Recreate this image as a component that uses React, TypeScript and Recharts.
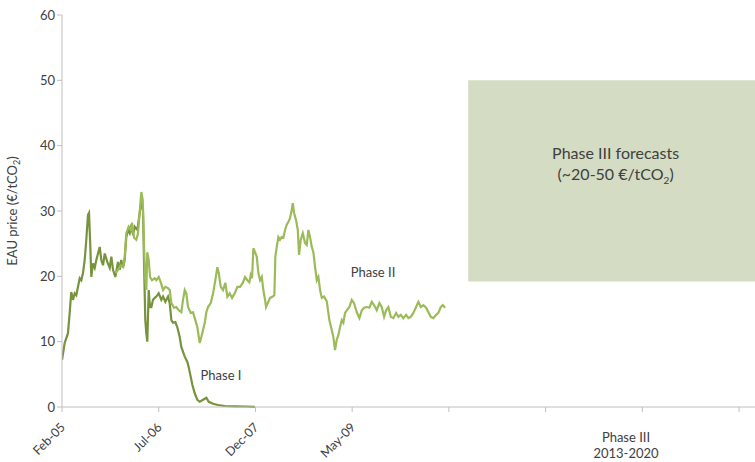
import { LineChart, Line, XAxis, YAxis, ReferenceArea } from "recharts";

// months since Feb-05
const phase1T = [
  0, 0.47, 1.05, 1.35, 1.63, 1.93, 2.23, 2.51, 3.11, 3.39, 3.69, 3.99, 4.27, 4.57, 4.75,
  4.98, 5.15, 5.45, 5.75, 6.03, 6.63, 6.91, 7.21, 7.51, 7.96, 8.39, 8.67, 8.97, 9.37,
  9.84, 10.14, 10.42, 10.72, 11.02, 11.3, 11.6, 11.9, 12.18, 12.48, 12.78, 13.24, 13.66,
  13.94, 14.24, 14.42, 14.64, 14.82, 14.99, 15.24, 15.47, 15.7, 16.0, 16.3, 16.58, 17.0,
  17.46, 17.76, 18.16, 18.63, 18.93, 19.22, 19.51, 19.92, 20.27, 20.69, 20.97, 21.57,
  22.03, 22.27, 22.63, 22.91, 23.33, 23.79, 24.21, 24.79, 25.37, 25.79, 26.55, 27.42,
  28.6, 30.4, 32.2, 33.9,
];
const phase1Price = [
  7.2, 9.8, 11.3, 14.4, 17.6, 16.4, 17.4, 17.1, 19.7, 19.4, 20.5, 22.5, 25.6, 29.4, 29.7,
  24.5, 19.9, 22, 21.3, 22.5, 24.5, 22.5, 21.7, 23.5, 22.2, 21.3, 23, 21, 19.9,
  22.2, 21, 22.5, 21.3, 22.5, 26, 27.1, 26.6, 27.9, 26.3, 27.6, 27.1, 29.7,
  31.5, 30, 22, 13.3, 11.3, 10, 17.9, 15.3, 15.3, 16.4, 16.7, 16.9, 17.4,
  16.4, 16.9, 16.1, 16.9, 15.9, 13.3, 12.9, 13, 12.2, 10.7, 9.2, 7.7,
  6.9, 6.1, 4.6, 3.4, 2.1, 1.1, 0.8, 1.1, 1.4, 0.8, 0.5, 0.3,
  0.15, 0.1, 0.08, 0.03,
];

const phase2T = [
  9.37, 9.84, 10.32, 10.72, 11.02, 11.3, 11.73, 12.08, 12.31, 12.66, 13.06, 13.36, 13.66,
  13.94, 14.19, 14.42, 14.64, 14.82, 14.99, 15.24, 15.47, 15.82, 16.3, 16.58, 17.0, 17.35,
  17.76, 18.16, 18.63, 18.93, 19.22, 19.69, 20.09, 20.52, 20.97, 21.27, 21.57, 21.85,
  22.15, 22.63, 23.03, 23.43, 23.79, 24.21, 24.49, 24.79, 25.09, 25.37, 25.67, 26.14,
  26.55, 26.95, 27.3, 27.55, 27.9, 28.3, 28.71, 29.06, 29.48, 29.89, 30.36, 30.82, 31.29,
  31.77, 32.17, 32.58, 32.93, 33.17, 33.4, 33.63, 33.93, 34.23, 34.51, 34.81, 35.11,
  35.39, 35.69, 35.86, 36.27, 36.57, 37.04, 37.32, 37.5, 37.74, 38.03, 38.32, 38.62,
  38.9, 39.2, 39.5, 39.78, 40.08, 40.38, 40.56, 40.79, 41.14, 41.44, 41.66, 41.96, 42.32,
  42.72, 43.02, 43.3, 43.6, 43.9, 44.18, 44.48, 44.78, 45.06, 45.36, 45.66, 46.06, 46.53,
  46.99, 47.41, 47.69, 47.99, 48.29, 48.57, 48.87, 49.17, 49.45, 49.75, 50.05, 50.51,
  50.93, 51.33, 51.81, 52.27, 52.69, 53.09, 53.57, 54.02, 54.45, 54.85, 55.32, 55.78,
  56.2, 56.61, 56.96, 57.36, 57.79, 58.24, 58.72, 59.12, 59.54, 60.0, 60.48, 60.88,
  61.3, 61.76, 62.23, 62.64, 63.06, 63.52, 63.99, 64.4, 64.82, 65.27, 65.75, 66.15,
  66.57, 66.93, 67.33,
];
const phase2Price = [
  20.5, 21, 21.7, 21.4, 23, 26.6, 27.6, 27.1, 28.2, 25.9, 25.6, 26.6, 29.9,
  32.9, 31.7, 24.5, 19.4, 17.9, 23.7, 22.5, 19.9, 19.4, 19.7, 19.4, 19.9, 19.1,
  17.9, 18.4, 18.2, 17.9, 15.9, 15.2, 15.3, 14.8, 14.5, 16.4, 17.9, 17.4,
  15.3, 14.4, 14.5, 13.3, 12.2, 9.8, 10.7, 11.8, 12.9, 14.5, 15.3, 15.9,
  17.4, 19.4, 21.4, 20.5, 18.4, 17.9, 19, 16.9, 17.4, 16.7, 17.4, 18.4, 18.4,
  19, 19.9, 19.4, 19.1, 20.2, 19.7, 24.3, 23.7, 23, 20.5, 19.4, 19.9,
  17.9, 16.4, 15.3, 16.1, 16.7, 16.9, 17.1, 23, 24.5, 26, 25.6, 26,
  25.9, 27.1, 27.9, 28.3, 28.9, 30.2, 31.2, 29.7, 28.6, 27.1, 23.3, 25.6, 26.6,
  25.1, 24.8, 27.1, 26, 24.5, 23.7, 21.4, 19.4, 19.9, 17.9, 16.7, 16.9, 16.2,
  13.3, 11.8, 10.7, 8.7, 10.3, 11, 12.2, 13.3, 12.9, 14.4, 14.8, 15.3,
  16.4, 15.9, 14.5, 13.6, 14.8, 15.2, 15.3, 15.2, 16.1, 15.6, 14.8, 15.9,
  15.3, 13.8, 14.8, 15.3, 13.8, 13.6, 14.4, 13.8, 14.1, 13.6, 14.1, 13.6,
  13.8, 14.4, 15.3, 16.1, 15.3, 15.6, 15.2, 14.5, 13.8, 13.6, 14.1, 14.4,
  15.3, 15.6, 15.2,
];

const xTicks = [0, 17, 34, 51, 68, 85, 102, 119];
const xTickLabels = ["Feb-05", "Jul-06", "Dec-07", "May-09", "", "", "", ""];
const yTicks = [0, 10, 20, 30, 40, 50, 60];

// Phase III forecast band
const forecastStart = 71.4;
const forecastEnd = 121.8;
const forecastLow = 19.2;
const forecastHigh = 50;

const phase1 = phase1T.map((t, i) => ({ t, v: phase1Price[i] }));
const phase2 = phase2T.map((t, i) => ({ t, v: phase2Price[i] }));

const FONT = "Lato, 'Open Sans', sans-serif";
const TEXT = "#404040";
const AXIS = "#BFBFBF";

const XTick = (props: any) => {
  const { x, y, index } = props;
  const label = xTickLabels[index];
  if (!label) return null;
  const ax = x + 4;
  const ay = y + 14;
  return (
    <text
      x={ax}
      y={ay}
      textAnchor="end"
      fontSize={12.5}
      fill={TEXT}
      fontFamily={FONT}
      transform={`rotate(-45 ${ax} ${ay})`}
    >
      {label}
    </text>
  );
};

const YLabel = () => (
  <text
    x={17}
    y={211}
    textAnchor="middle"
    fontSize={13}
    fill={TEXT}
    fontFamily={FONT}
    transform="rotate(-90 17 211)"
  >
    EAU price (€/tCO
    <tspan fontSize={9} dy={3}>2</tspan>
    <tspan dy={-3}>)</tspan>
  </text>
);

const ForecastLabel = (props: any) => {
  const { viewBox } = props;
  const cx = viewBox.x + viewBox.width / 2 + 4;
  const cy = viewBox.y + viewBox.height / 2 - 22;
  return (
    <text textAnchor="middle" fontSize={16} fill={TEXT} fontFamily={FONT}>
      <tspan x={cx} y={cy}>Phase III forecasts</tspan>
      <tspan x={cx} y={cy + 21}>(~20-50 €/tCO</tspan>
      <tspan fontSize={10} dy={4}>2</tspan>
      <tspan dy={-4}>)</tspan>
    </text>
  );
};

const label = (left: number, top: number, text: React.ReactNode) => (
  <div
    style={{
      position: "absolute",
      left,
      top,
      transform: "translate(-50%, -50%)",
      fontFamily: FONT,
      fontSize: 13,
      color: TEXT,
      textAlign: "center",
      whiteSpace: "nowrap",
      lineHeight: "16px",
    }}
  >
    {text}
  </div>
);

export default function App() {
  return (
    <div style={{ position: "absolute", left: 0, top: 0, width: 755, height: 462, background: "#fff" }}>
      <LineChart width={755} height={462} margin={{ top: 15, right: 0, bottom: 0, left: 0 }}>
        <XAxis
          dataKey="t"
          type="number"
          domain={[0, forecastEnd]}
          ticks={xTicks}
          interval={0}
          tick={<XTick />}
          tickSize={5}
          stroke={AXIS}
          height={55}
          allowDataOverflow
        />
        <YAxis
          type="number"
          domain={[0, 60]}
          ticks={yTicks}
          interval={0}
          width={62}
          tickSize={5}
          stroke={AXIS}
          tick={{ fill: TEXT, fontSize: 13, fontFamily: FONT }}
          label={{ content: <YLabel /> }}
        />
        <ReferenceArea
          x1={forecastStart}
          x2={forecastEnd}
          y1={forecastLow}
          y2={forecastHigh}
          fill="#D4DCC3"
          fillOpacity={1}
          stroke="none"
          label={<ForecastLabel />}
        />
        <Line
          data={phase1}
          dataKey="v"
          stroke="#77933C"
          strokeWidth={2.2}
          dot={false}
          isAnimationActive={false}
        />
        <Line
          data={phase2}
          dataKey="v"
          stroke="#9BBB59"
          strokeWidth={2.2}
          dot={false}
          isAnimationActive={false}
        />
      </LineChart>
      {label(221, 375, "Phase I")}
      {label(373, 272, "Phase II")}
      {label(626, 445, (
        <>
          Phase III
          <br />
          2013-2020
        </>
      ))}
    </div>
  );
}
